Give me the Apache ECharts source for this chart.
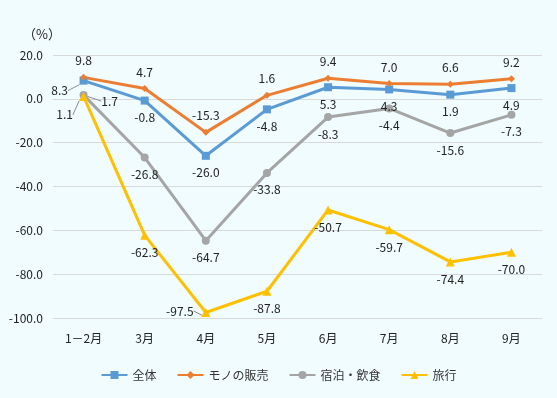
<!DOCTYPE html>
<html>
<head>
<meta charset="utf-8">
<script src="https://cdn.jsdelivr.net/npm/echarts@6/dist/echarts.min.js"></script>
<style>
  html, body { margin: 0; padding: 0; background: #f0fcfe; }
  #chart { width: 557px; height: 398px; }
</style>
</head>
<body>
<div id="chart"></div>
<script>
// 月
var months = ["1－2月", "3月", "4月", "5月", "6月", "7月", "8月", "9月"];
// 系列データ（%）
var zentai = [8.3, -0.8, -26.0, -4.8, 5.3, 4.3, 1.9, 4.9];
var monoHanbai = [9.8, 4.7, -15.3, 1.6, 9.4, 7.0, 6.6, 9.2];
var shukuhakuInshoku = [1.7, -26.8, -64.7, -33.8, -8.3, -4.4, -15.6, -7.3];
var ryoko = [1.1, -62.3, -97.5, -87.8, -50.7, -59.7, -74.4, -70.0];
// y軸
var yMin = -100, yMax = 20, yStep = 20;

var font = '"Noto Sans CJK JP", sans-serif';
var labelText = { fontSize: 12, color: "#222", fontFamily: font };

// 個別のラベル位置（引き出し線付き）
var moved = {
  "全体": { 0: { dx: -24, dy: -7 } },
  "宿泊・飲食": { 0: { dx: 26, dy: -11 } },
  "旅行": { 0: { dx: -19, dy: 1 }, 2: { dx: -26, dy: -19 } }
};

function buildData(name, values) {
  return values.map(function (v, i) {
    var item = { value: v };
    if (moved[name] && moved[name][i]) {
      item.labelLine = { show: true, lineStyle: { color: "#8c8c8c", width: 1 } };
    }
    return item;
  });
}

function makeSeries(name, values, color, symbol, size, pos) {
  return {
    name: name,
    type: "line",
    data: buildData(name, values),
    symbol: symbol,
    symbolSize: size,
    lineStyle: { color: color, width: 3 },
    itemStyle: { color: color },
    label: Object.assign({
      show: true,
      position: pos,
      distance: 7,
      formatter: function (p) { return p.value.toFixed(1); }
    }, labelText),
    labelLayout: function (params) {
      var m = moved[name] && moved[name][params.dataIndex];
      return m ? { dx: m.dx, dy: m.dy } : {};
    }
  };
}

var chart = echarts.init(document.getElementById("chart"));
chart.setOption({
  backgroundColor: "#f0fcfe",
  animation: false,
  title: {
    text: "（%）",
    left: 18,
    top: 23,
    textStyle: { fontSize: 13, fontWeight: "normal", color: "#222", fontFamily: font }
  },
  legend: {
    bottom: 12,
    itemWidth: 26,
    itemHeight: 10,
    itemGap: 20,
    textStyle: { fontSize: 12, color: "#333", fontFamily: font },
    data: ["全体", "モノの販売", "宿泊・飲食", "旅行"]
  },
  grid: { left: 53, right: 15, top: 55, bottom: 80 },
  xAxis: {
    type: "category",
    data: months,
    axisLine: { lineStyle: { color: "#d9d9d9" } },
    axisTick: { show: false },
    axisLabel: { margin: 14, fontSize: 12, color: "#222", fontFamily: font }
  },
  yAxis: {
    type: "value",
    min: yMin,
    max: yMax,
    interval: yStep,
    axisLine: { show: false },
    axisTick: { show: false },
    splitLine: { lineStyle: { color: "#d9d9d9" } },
    axisLabel: {
      margin: 10,
      fontSize: 12,
      color: "#222",
      fontFamily: font,
      formatter: function (v) { return v.toFixed(1); }
    }
  },
  series: [
    makeSeries("全体", zentai, "#5b9bd5", "rect", 8, "bottom"),
    makeSeries("モノの販売", monoHanbai, "#ed7d31", "diamond", 7, "top"),
    makeSeries("宿泊・飲食", shukuhakuInshoku, "#a5a5a5", "circle", 8, "bottom"),
    makeSeries("旅行", ryoko, "#ffc000", "triangle", 9, "bottom")
  ]
});
</script>
</body>
</html>
